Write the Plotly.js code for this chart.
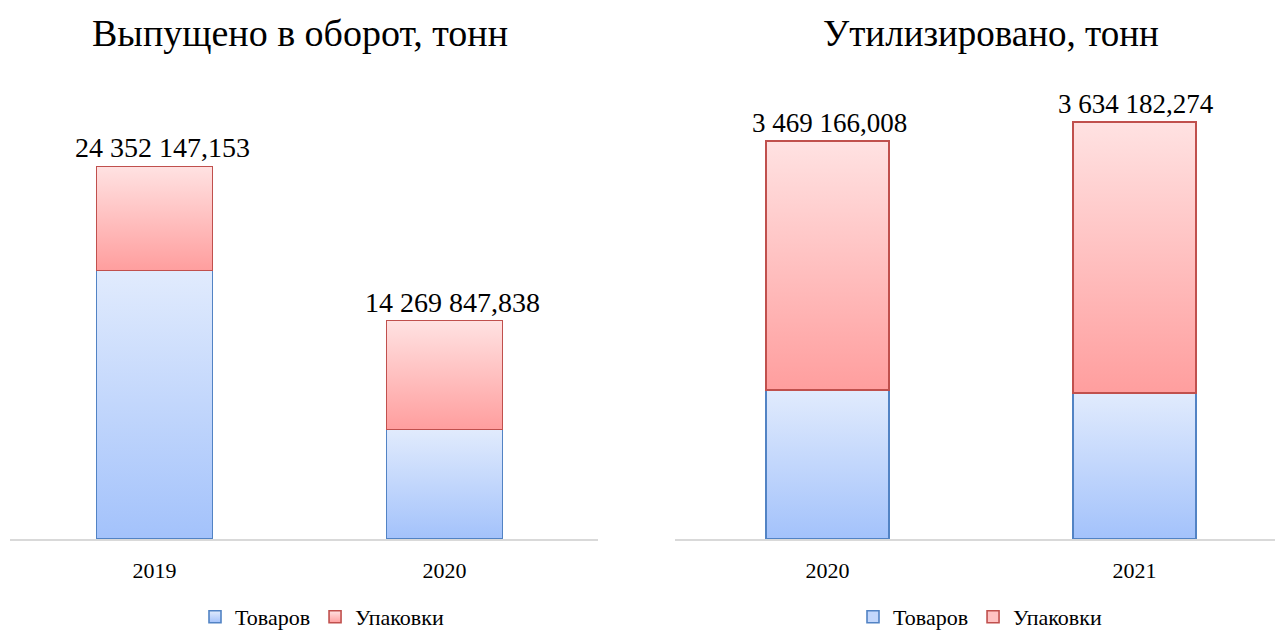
<!DOCTYPE html>
<html>
<head>
<meta charset="utf-8">
<script src="https://cdn.plot.ly/plotly-3.0.1.min.js"></script>
<style>
  html, body { margin: 0; padding: 0; background: #fff; }
  #chart { width: 1277px; height: 630px; }
</style>
</head>
<body>
<div id="chart"></div>
<script>
// left chart: released into circulation
const yearsLeft = ['2019', '2020'];
const goodsLeft = [17560000, 7160000];
const packLeft = [6792147.153, 7109847.838];
const totalLeft = [24352147.153, 14269847.838];
const labelsLeft = ['24 352 147,153', '14 269 847,838'];

// right chart: recycled
const yearsRight = ['2020', '2021'];
const goodsRight = [1299000, 1273000];
const packRight = [2170166.008, 2361182.274];
const totalRight = [3469166.008, 3634182.274];
const labelsRight = ['3 469 166,008', '3 634 182,274'];

const W = 1277;
const serif = 'Liberation Serif, Times New Roman, serif';

const blueLine = '#5283c4';
const redLine = '#c0504d';

function barTrace(x, y, name, fill, line, xa, ya, leg) {
    return {
        type: 'bar',
        x: x,
        y: y,
        name: name,
        xaxis: xa,
        yaxis: ya,
        legend: leg,
        width: 0.4,
        marker: { color: fill, line: { color: line, width: 1.6 } },
        hoverinfo: 'skip'
    };
}

const data = [
    barTrace(yearsLeft, goodsLeft, 'Товаров', '#c3d7fc', blueLine, 'x', 'y', 'legend'),
    barTrace(yearsLeft, packLeft, 'Упаковки', '#ffc2c2', redLine, 'x', 'y', 'legend'),
    barTrace(yearsRight, goodsRight, 'Товаров', '#c3d7fc', blueLine, 'x2', 'y2', 'legend2'),
    barTrace(yearsRight, packRight, 'Упаковки', '#ffc2c2', redLine, 'x2', 'y2', 'legend2')
];

const annotations = [];
yearsLeft.forEach((yr, i) => {
    annotations.push({ x: i, y: totalLeft[i], xref: 'x', yref: 'y', text: labelsLeft[i], xshift: 8,
        showarrow: false, yanchor: 'bottom', yshift: 1, font: { family: serif, size: 28, color: '#000' } });
});
yearsRight.forEach((yr, i) => {
    annotations.push({ x: i, y: totalRight[i], xref: 'x2', yref: 'y2', text: labelsRight[i], xshift: 2,
        showarrow: false, yanchor: 'bottom', yshift: 1, font: { family: serif, size: 27, color: '#000' } });
});
// chart titles, placed 33px from the top of the page (plot area is 80..539)
const titleY = 1 + (80 - 33) / 459;
annotations.push({ x: 300 / W, y: titleY, xref: 'paper', yref: 'paper', text: 'Выпущено в оборот, тонн',
    showarrow: false, xanchor: 'center', yanchor: 'middle', font: { family: serif, size: 38, color: '#000' } });
annotations.push({ x: 991 / W, y: titleY, xref: 'paper', yref: 'paper', text: 'Утилизировано, тонн',
    showarrow: false, xanchor: 'center', yanchor: 'middle', font: { family: serif, size: 37, color: '#000' } });

const xCommon = {
    type: 'category',
    showline: true,
    linecolor: '#d9d9d9',
    linewidth: 1.5,
    showgrid: false,
    zeroline: false,
    ticks: '',
    ticklabelstandoff: 11,
    tickfont: { family: serif, size: 22, color: '#000' },
    fixedrange: true
};
const yCommon = {
    showgrid: false,
    zeroline: false,
    showline: false,
    showticklabels: false,
    ticks: '',
    fixedrange: true
};

const legendCommon = {
    orientation: 'h',
    traceorder: 'normal',
    xanchor: 'center',
    yanchor: 'middle',
    yref: 'container',
    y: 1 - 617 / 630,
    itemwidth: 30,
    font: { family: serif, size: 22, color: '#000' },
    bgcolor: 'rgba(0,0,0,0)'
};

const layout = {
    width: W,
    height: 630,
    margin: { l: 0, r: 0, t: 80, b: 91, autoexpand: false },
    paper_bgcolor: '#fff',
    plot_bgcolor: '#fff',
    barmode: 'stack',
    showlegend: true,
    xaxis: Object.assign({}, xCommon, { domain: [10 / W, 598 / W], range: [-0.498, 1.529], anchor: 'y' }),
    yaxis: Object.assign({}, yCommon, { domain: [0, 1], range: [0, 30000000], anchor: 'x' }),
    xaxis2: Object.assign({}, xCommon, { domain: [675 / W, 1275 / W], range: [-0.497, 1.458], anchor: 'y2' }),
    yaxis2: Object.assign({}, yCommon, { domain: [0, 1], range: [0, 4000000], anchor: 'x2' }),
    legend: Object.assign({}, legendCommon, { x: 322 / W }),
    legend2: Object.assign({}, legendCommon, { x: 980 / W }),
    annotations: annotations
};

Plotly.newPlot('chart', data, layout, { displayModeBar: false, staticPlot: true }).then(gd => {
    // vertical gradients like the original office chart
    const svg = gd.querySelector('svg.main-svg');
    let defs = svg.querySelector('defs');
    const ns = 'http://www.w3.org/2000/svg';
    function grad(id, top, bottom) {
        const g = document.createElementNS(ns, 'linearGradient');
        g.setAttribute('id', id);
        g.setAttribute('x1', '0'); g.setAttribute('y1', '0');
        g.setAttribute('x2', '0'); g.setAttribute('y2', '1');
        [[0, top], [1, bottom]].forEach(([o, c]) => {
            const s = document.createElementNS(ns, 'stop');
            s.setAttribute('offset', o);
            s.setAttribute('stop-color', c);
            g.appendChild(s);
        });
        defs.appendChild(g);
    }
    grad('gradBlue', '#e1ebfd', '#a3c2fb');
    grad('gradRed', '#ffe2e2', '#ff9e9e');

    function paint(groups) {
        groups.forEach(g => {
            const d = g.__data__;
            if (!d || !d[0] || !d[0].trace) return;
            const id = d[0].trace.name === 'Товаров' ? 'gradBlue' : 'gradRed';
            g.querySelectorAll('path').forEach(p => { p.style.fill = 'url(#' + id + ')'; });
        });
    }
    paint(gd.querySelectorAll('.barlayer .trace'));
    paint(gd.querySelectorAll('.legend .traces'));
});
</script>
</body>
</html>
